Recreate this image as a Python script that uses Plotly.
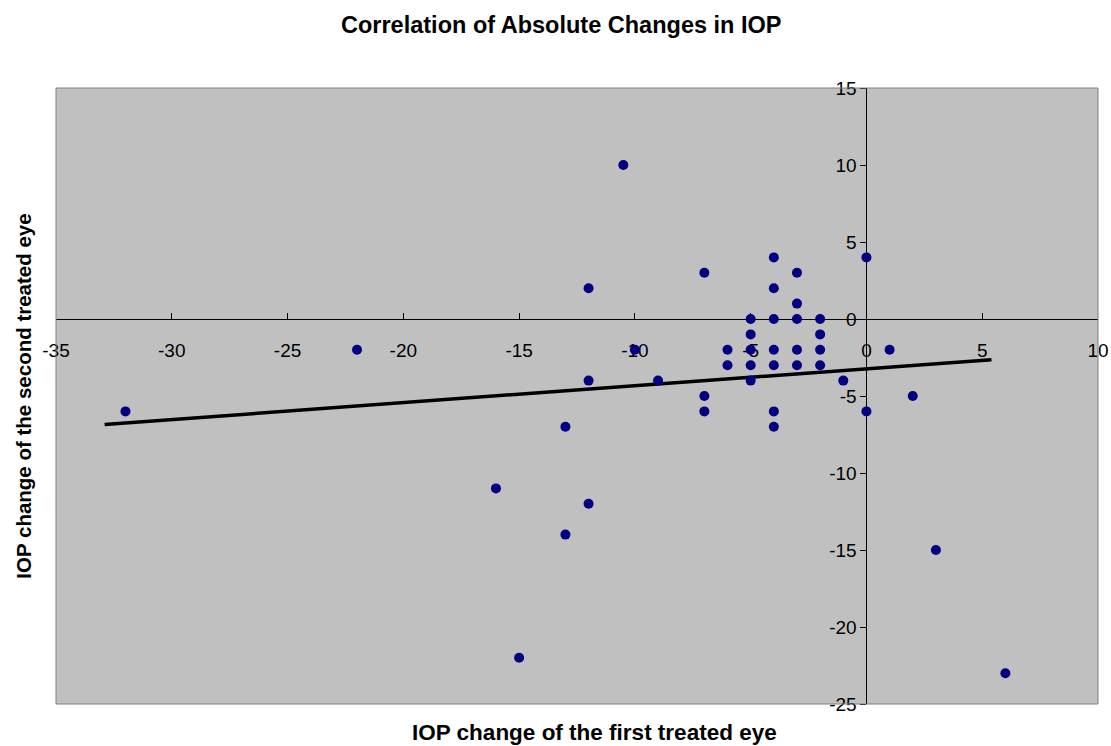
import plotly.graph_objects as go

# Data
first_eye = [-32, -22, -16, -15, -13, -13, -12, -12, -12, -10.5, -10, -9,
             -7, -7, -7, -6, -6, -5, -5, -5, -5, -5,
             -4, -4, -4, -4, -4, -4, -4, -3, -3, -3, -3, -3,
             -2, -2, -2, -2, -1, 0, 0, 1, 2, 3, 6]
second_eye = [-6, -2, -11, -22, -7, -14, 2, -4, -12, 10, -2, -4,
              3, -5, -6, -2, -3, 0, -1, -2, -3, -4,
              4, 2, 0, -2, -3, -6, -7, 3, 1, 0, -2, -3,
              0, -1, -2, -3, -4, 4, -6, -2, -5, -15, -23]

# Linear trend line (as drawn in the reference)
trend_x = [-32.9, 5.4]
trend_y = [-6.85, -2.64]

x_ticks = [-35, -30, -25, -20, -15, -10, -5, 0, 5, 10]
y_ticks = [-25, -20, -15, -10, -5, 0, 5, 10, 15]

FONT = "Liberation Sans, Arial, sans-serif"

fig = go.Figure()
fig.add_trace(go.Scatter(x=trend_x, y=trend_y, mode="lines",
                         line=dict(color="black", width=3.5),
                         hoverinfo="skip", showlegend=False))
fig.add_trace(go.Scatter(x=first_eye, y=second_eye, mode="markers",
                         marker=dict(color="#000080", size=10, line=dict(width=0)),
                         showlegend=False))

fig.update_layout(
    width=1111, height=746,
    margin=dict(l=56, r=13, t=88, b=42),
    paper_bgcolor="white",
    plot_bgcolor="#C0C0C0",
    font=dict(family=FONT, color="black", size=19),
    xaxis=dict(range=[-35, 10], tickvals=x_ticks, ticktext=[str(v) for v in x_ticks],
               showgrid=False, zeroline=False, showline=True, linecolor="black",
               linewidth=1, ticks="inside", ticklen=6, tickcolor="black",
               anchor="free", position=25/40, layer="below traces", automargin=False,
               ticklabelstandoff=14, tickfont=dict(size=19, family=FONT)),
    yaxis=dict(range=[-25, 15], tickvals=y_ticks, ticktext=[str(v) for v in y_ticks],
               showgrid=False, zeroline=False, showline=True, linecolor="black",
               linewidth=1, ticks="outside", ticklen=6, tickcolor="black",
               anchor="free", position=35/45, layer="below traces", automargin=False,
               tickfont=dict(size=19, family=FONT)),
    shapes=[dict(type="rect", xref="paper", yref="paper", x0=0, x1=1, y0=0, y1=1,
                 line=dict(color="#808080", width=1), fillcolor="rgba(0,0,0,0)")],
    annotations=[
        dict(text="<b>Correlation of Absolute Changes in IOP</b>", xref="paper", yref="paper",
             x=0.4846, y=1.102, xanchor="center", yanchor="middle", showarrow=False,
             font=dict(size=23.5, family=FONT)),
        dict(text="<b>IOP change of the first treated eye</b>", xref="paper", yref="paper",
             x=0.517, y=-0.047, xanchor="center", yanchor="middle", showarrow=False,
             font=dict(size=22.5, family=FONT)),
        dict(text="<b>IOP change of the second treated eye</b>", xref="paper", yref="paper",
             x=-0.032, y=0.5, xanchor="center", yanchor="middle", showarrow=False,
             textangle=-90, font=dict(size=20.5, family=FONT)),
    ],
)

fig.write_html("out.html", config={"displayModeBar": False},
               post_script="document.body.style.margin='0';document.body.style.overflow='hidden';")
